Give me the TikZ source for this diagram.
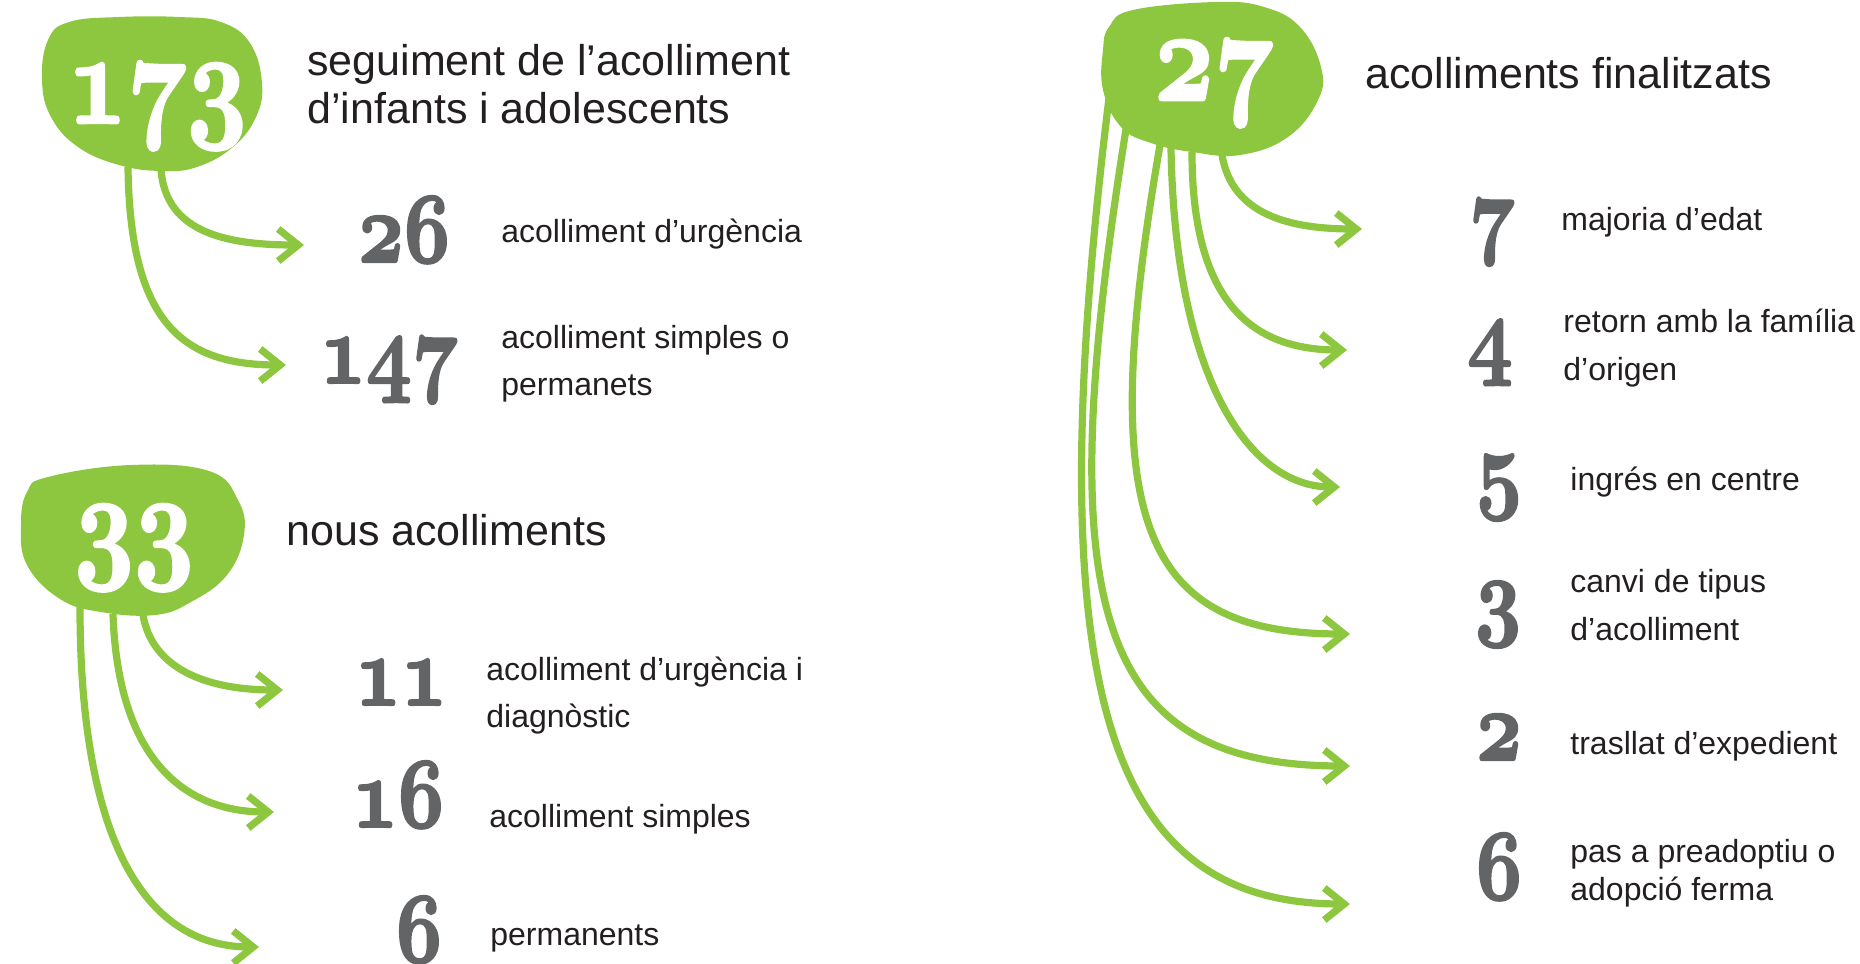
\documentclass[tikz,border=0pt]{standalone}
\usepackage{fontspec}
\setmainfont{Liberation Sans}
\usetikzlibrary{arrows.meta}
\definecolor{blobgreen}{HTML}{8DC63F}
\definecolor{numgrey}{HTML}{636466}
\definecolor{txtblack}{HTML}{231F20}
\newcommand\numheavy[1]{\fontsize{10}{12}\usefont{OML}{cmm}{b}{it}\special{pdf:literal direct 2 Tr 0.22 w 1 j}#1\special{pdf:literal direct 0 Tr}}
\newcommand\numbig[1]{\scalebox{5.2}[6.5]{\numheavy{#1}}}
\newcommand\numsmall[1]{\scalebox{4}[5]{\numheavy{#1}}}
\begin{document}
\begin{tikzpicture}[x=0.5pt,y=-0.5pt,
  blobshape/.style={fill=blobgreen,draw=none},
  bignumber/.style={anchor=base,inner sep=0pt,text=white},
  smallnumber/.style={anchor=base,inner sep=0pt,text=numgrey},
  headtext/.style={anchor=base west,inner sep=0pt,text=txtblack,font=\fontsize{21.5}{24}\selectfont},
  itemtext/.style={anchor=base west,inner sep=0pt,text=txtblack,font=\fontsize{16}{19}\selectfont},
  flowarrow/.style={draw=blobgreen,line width=3.6pt,-{Straight Barb[length=10pt,width=16pt]}}
]
\useasboundingbox (0,0) rectangle (1860,964);

% start and end coordinates
\coordinate (s26) at (161,170);  \coordinate (t26) at (304,245);
\coordinate (s147) at (128,167); \coordinate (t147) at (286,365);
\coordinate (s11) at (143,615);  \coordinate (t11) at (283,690);
\coordinate (s16) at (113,614);  \coordinate (t16) at (274,812);
\coordinate (s6a) at (80,607);   \coordinate (t6a) at (259,947);
\coordinate (s7) at (1222,155);  \coordinate (t7) at (1362,229);
\coordinate (s4) at (1192,152);  \coordinate (t4) at (1347,350);
\coordinate (s5) at (1171,148);  \coordinate (t5) at (1340,487);
\coordinate (s3) at (1160,145);  \coordinate (t3) at (1350,634);
\coordinate (s2) at (1127,123);  \coordinate (t2) at (1350,766);
\coordinate (s6b) at (1109,98);  \coordinate (t6b) at (1350,904);

% connectors
\draw[flowarrow] (s26) .. controls (166,232) and (225,245) .. (t26);
\draw[flowarrow] (s147) .. controls (130,320) and (180,365) .. (t147);
\draw[flowarrow] (s11) .. controls (152,668) and (205,690) .. (t11);
\draw[flowarrow] (s16) .. controls (118,760) and (185,812) .. (t16);
\draw[flowarrow] (s6a) .. controls (80,850) and (150,947) .. (t6a);
\draw[flowarrow] (s7) .. controls (1232,215) and (1290,229) .. (t7);
\draw[flowarrow] (s4) .. controls (1192,300) and (1250,350) .. (t4);
\draw[flowarrow] (s5) .. controls (1175,380) and (1250,487) .. (t5);
\draw[flowarrow] (s3) .. controls (1095,520) and (1140,634) .. (t3);
\draw[flowarrow] (s2) .. controls (1050,600) and (1090,766) .. (t2);
\draw[flowarrow] (s6b) .. controls (1035,700) and (1110,904) .. (t6b);

% blobs
\fill[blobshape] plot[smooth cycle,tension=0.7] coordinates {(69,22) (119,17) (179,17) (221,22) (250,43) (262,83) (256,117) (233,147) (197,167) (161,171) (119,165) (78,147) (51,117) (42,80) (48,40)};
\fill[blobshape] plot[smooth cycle,tension=0.7] coordinates {(48,477) (131,465) (209,471) (238,500) (244,535) (227,575) (191,602) (155,615) (101,612) (60,599) (27,565) (21,525) (27,492)};
\fill[blobshape] plot[smooth cycle,tension=0.7] coordinates {(1133,10) (1216,2) (1264,7) (1300,27) (1321,67) (1318,100) (1288,137) (1240,155) (1192,152) (1151,143) (1121,127) (1103,90) (1103,50) (1109,27)};

% big numbers
\node[bignumber] (n173) at (157,123) {\numbig{173}};
\node[bignumber] (n33) at (134,564) {\numbig{33}};
\node[bignumber] (n27) at (1214,100) {\numbig{27}};

% headings
\node[headtext] (h1a) at (307,75) {seguiment de l’acolliment};
\node[headtext] (h1b) at (307,123) {d’infants i adolescents};
\node[headtext] (h2) at (286,545) {nous acolliments};
\node[headtext] (h3) at (1365,88) {acolliments finalitzats};

% small numbers
\node[smallnumber] (n26) at (404,262) {\numsmall{26}};
\node[smallnumber] (n147) at (389,383) {\numsmall{147}};
\node[smallnumber] (n11) at (401,705) {\numsmall{11}};
\node[smallnumber] (n16) at (398,827) {\numsmall{16}};
\node[smallnumber] (n6a) at (419,962) {\numsmall{6}};
\node[smallnumber] (n7) at (1492,245) {\numsmall{7}};
\node[smallnumber] (n4) at (1490,366) {\numsmall{4}};
\node[smallnumber] (n5) at (1499,500) {\numsmall{5}};
\node[smallnumber] (n3) at (1498,627) {\numsmall{3}};
\node[smallnumber] (n2) at (1499,760) {\numsmall{2}};
\node[smallnumber] (n6b) at (1499,899) {\numsmall{6}};

% item texts
\node[itemtext] (l26) at (501,242) {acolliment d’urgència};
\node[itemtext] (l147a) at (501,348) {acolliment simples o};
\node[itemtext] (l147b) at (501,395) {permanets};
\node[itemtext] (l11a) at (486,680) {acolliment d’urgència i};
\node[itemtext] (l11b) at (486,727) {diagnòstic};
\node[itemtext] (l16) at (489,827) {acolliment simples};
\node[itemtext] (l6a) at (490,945) {permanents};
\node[itemtext] (l7) at (1561,230) {majoria d’edat};
\node[itemtext] (l4a) at (1563,332) {retorn amb la família};
\node[itemtext] (l4b) at (1563,380) {d’origen};
\node[itemtext] (l5) at (1570,490) {ingrés en centre};
\node[itemtext] (l3a) at (1570,592) {canvi de tipus};
\node[itemtext] (l3b) at (1570,640) {d’acolliment};
\node[itemtext] (l2) at (1570,754) {trasllat d’expedient};
\node[itemtext] (l6ba) at (1570,862) {pas a preadoptiu o};
\node[itemtext] (l6bb) at (1570,900) {adopció ferma};
\end{tikzpicture}
\end{document}
